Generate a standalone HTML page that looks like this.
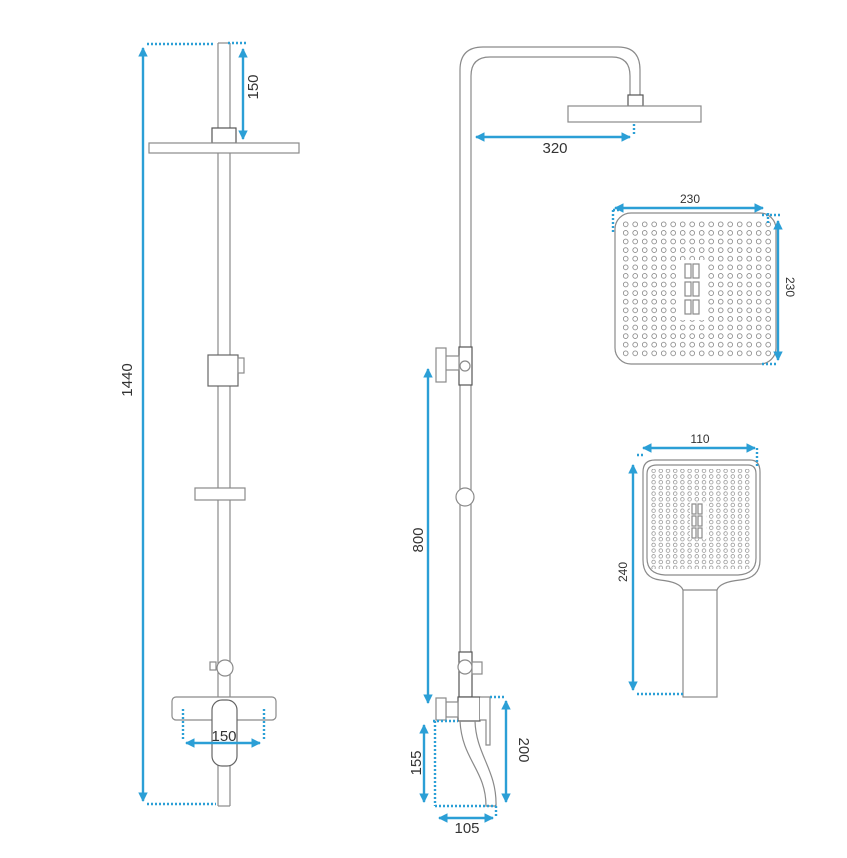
<!DOCTYPE html>
<html><head><meta charset="utf-8"><style>
html,body{margin:0;padding:0;background:#fff;}
svg{display:block}
text{font-family:"Liberation Sans",sans-serif;font-size:15px;fill:#333}
</style></head><body>
<svg width="847" height="858" viewBox="0 0 847 858" xmlns="http://www.w3.org/2000/svg">
<defs>
<marker id="a" viewBox="0 0 10 10" refX="9" refY="5" markerWidth="4" markerHeight="4" orient="auto-start-reverse"><path d="M0,0 L10,5 L0,10 z" fill="#2b9fd6"/></marker>
<pattern id="d1" x="621" y="220" width="9.5" height="8.6" patternUnits="userSpaceOnUse"><circle cx="4.7" cy="4.3" r="2.4" fill="none" stroke="#777" stroke-width="0.7"/></pattern>
<pattern id="d2" x="650" y="468" width="7.2" height="5.7" patternUnits="userSpaceOnUse"><circle cx="3.6" cy="2.8" r="1.8" fill="none" stroke="#777" stroke-width="0.6"/></pattern>
</defs>
<g fill="none" stroke="#8a8a8a" stroke-width="1.2">
<line x1="218" y1="43" x2="218" y2="806"/><line x1="230" y1="43" x2="230" y2="806"/>
<line x1="218" y1="43" x2="230" y2="43"/><line x1="218" y1="806" x2="230" y2="806"/>
<rect x="212" y="128" width="24" height="15" fill="#fff" stroke="#555"/>
<rect x="149" y="143" width="150" height="10" fill="#fff"/>
<rect x="208" y="355" width="30" height="31" fill="#fff" stroke="#666"/>
<rect x="238" y="358" width="6" height="15" fill="#fff"/>
<rect x="195" y="488" width="50" height="12" fill="#fff"/>
<rect x="210" y="662" width="6" height="8" fill="#fff"/>
<circle cx="225" cy="668" r="8" fill="#fff"/>
<rect x="172" y="697" width="104" height="23" rx="4" fill="#fff"/>
<rect x="212" y="700" width="25" height="66" rx="10" fill="#fff" stroke="#666"/>
<path d="M460,700 L460,70 Q460,47 483,47 L618,47 Q640,47 640,70 L640,95"/>
<path d="M471,700 L471,76 Q471,57 490,57 L612,57 Q630,57 630,76 L630,95"/>
<rect x="628" y="95" width="15" height="11" fill="#fff" stroke="#555"/>
<rect x="568" y="106" width="133" height="16" fill="#fff"/>
<rect x="459" y="347" width="13" height="38" fill="#fff" stroke="#555"/>
<circle cx="465" cy="366" r="5" fill="#fff"/>
<rect x="445" y="356" width="14" height="14" fill="#fff"/>
<rect x="436" y="348" width="10" height="34" fill="#fff"/>
<circle cx="465" cy="497" r="9" fill="#fff"/>
<rect x="459" y="652" width="13" height="45" fill="#fff" stroke="#555"/>
<circle cx="465" cy="667" r="7" fill="#fff"/>
<rect x="472" y="662" width="10" height="12" fill="#fff"/>
<rect x="458" y="697" width="22" height="24" fill="#fff" stroke="#555"/>
<path d="M480,697 L490,697 L490,745 L486,745 L486,720 L480,720" fill="#fff"/>
<rect x="446" y="702" width="12" height="15" fill="#fff"/>
<rect x="436" y="698" width="10" height="22" fill="#fff"/>
<path d="M460,721 C462,760 486,770 486,806 L496,806 C497,770 476,755 475,721"/>
<rect x="615" y="213" width="161" height="151" rx="16" fill="#fff"/>
<rect x="620" y="219" width="151" height="140" fill="url(#d1)" stroke="none"/>
<rect x="680" y="260" width="28" height="60" fill="#fff" stroke="none"/>
<rect x="685" y="264" width="6" height="14"/><rect x="693" y="264" width="6" height="14"/>
<rect x="685" y="282" width="6" height="14"/><rect x="693" y="282" width="6" height="14"/>
<rect x="685" y="300" width="6" height="14"/><rect x="693" y="300" width="6" height="14"/>
<rect x="683" y="575" width="34" height="122" fill="#fff"/>
<path d="M655,460 L750,460 Q760,460 760,472 L760,560 Q760,578 740,580 Q720,582 717,590 L683,590 Q680,582 660,580 Q643,578 643,560 L643,472 Q643,460 655,460 Z" fill="#fff"/>
<path d="M657,465 L748,465 Q756,465 756,474 L756,558 Q756,574 738,575 L665,575 Q647,574 647,558 L647,474 Q647,465 657,465Z"/>
<rect x="651" y="469" width="101" height="100" fill="url(#d2)" stroke="none"/>
<rect x="690" y="503" width="16" height="36" fill="#fff" stroke="none"/>
<rect x="692" y="504" width="4" height="10"/><rect x="698" y="504" width="4" height="10"/>
<rect x="692" y="516" width="4" height="10"/><rect x="698" y="516" width="4" height="10"/>
<rect x="692" y="528" width="4" height="10"/><rect x="698" y="528" width="4" height="10"/>
</g>
<g stroke="#2b9fd6" stroke-width="2.4" fill="none">
<line x1="143" y1="48" x2="143" y2="801" marker-start="url(#a)" marker-end="url(#a)"/>
<line x1="243" y1="49" x2="243" y2="139" marker-start="url(#a)" marker-end="url(#a)"/>
<line x1="186" y1="743" x2="260" y2="743" marker-start="url(#a)" marker-end="url(#a)"/>
<line x1="476" y1="137" x2="630" y2="137" marker-start="url(#a)" marker-end="url(#a)"/>
<line x1="428" y1="369" x2="428" y2="703" marker-start="url(#a)" marker-end="url(#a)"/>
<line x1="424" y1="725" x2="424" y2="802" marker-start="url(#a)" marker-end="url(#a)"/>
<line x1="506" y1="701" x2="506" y2="802" marker-start="url(#a)" marker-end="url(#a)"/>
<line x1="439" y1="818" x2="493" y2="818" marker-start="url(#a)" marker-end="url(#a)"/>
<line x1="615" y1="208" x2="763" y2="208" marker-start="url(#a)" marker-end="url(#a)"/>
<line x1="778" y1="221" x2="778" y2="360" marker-start="url(#a)" marker-end="url(#a)"/>
<line x1="643" y1="448" x2="755" y2="448" marker-start="url(#a)" marker-end="url(#a)"/>
<line x1="633" y1="465" x2="633" y2="690" marker-start="url(#a)" marker-end="url(#a)"/>
</g>
<g stroke="#2b9fd6" stroke-width="2.4" fill="none" stroke-dasharray="2 2">
<line x1="147" y1="44" x2="215" y2="44"/><line x1="228" y1="43" x2="246" y2="43"/>
<line x1="147" y1="804" x2="216" y2="804"/>
<line x1="183" y1="709" x2="183" y2="741"/><line x1="264" y1="709" x2="264" y2="741"/>
<line x1="634" y1="124" x2="634" y2="135"/>
<line x1="433" y1="721" x2="458" y2="721"/><line x1="435" y1="721" x2="435" y2="806"/>
<line x1="435" y1="806" x2="496" y2="806"/><line x1="496" y1="806" x2="496" y2="817"/>
<line x1="490" y1="697" x2="506" y2="697"/>
<line x1="613" y1="210" x2="613" y2="232"/><line x1="613" y1="210" x2="620" y2="210"/>
<line x1="762" y1="215" x2="780" y2="215"/><line x1="768" y1="213" x2="768" y2="223"/>
<line x1="762" y1="364" x2="778" y2="364"/>
<line x1="637" y1="455" x2="645" y2="455"/><line x1="757" y1="448" x2="757" y2="466"/>
<line x1="637" y1="694" x2="683" y2="694"/>
</g>
<text x="132" y="380" text-anchor="middle" transform="rotate(-90 132 380)">1440</text>
<text x="258" y="87" text-anchor="middle" transform="rotate(-90 258 87)">150</text>
<text x="224" y="741" text-anchor="middle">150</text>
<text x="555" y="153" text-anchor="middle">320</text>
<text x="423" y="540" text-anchor="middle" transform="rotate(-90 423 540)">800</text>
<text x="421" y="763" text-anchor="middle" transform="rotate(-90 421 763)">155</text>
<text x="519" y="750" text-anchor="middle" transform="rotate(90 519 750)">200</text>
<text x="467" y="833" text-anchor="middle">105</text>
<text x="690" y="203" text-anchor="middle" style="font-size:12px">230</text>
<text x="786" y="287" text-anchor="middle" transform="rotate(90 786 287)" style="font-size:12px">230</text>
<text x="700" y="443" text-anchor="middle" style="font-size:12px">110</text>
<text x="627" y="572" text-anchor="middle" transform="rotate(-90 627 572)" style="font-size:12px">240</text>
</svg>
</body></html>
